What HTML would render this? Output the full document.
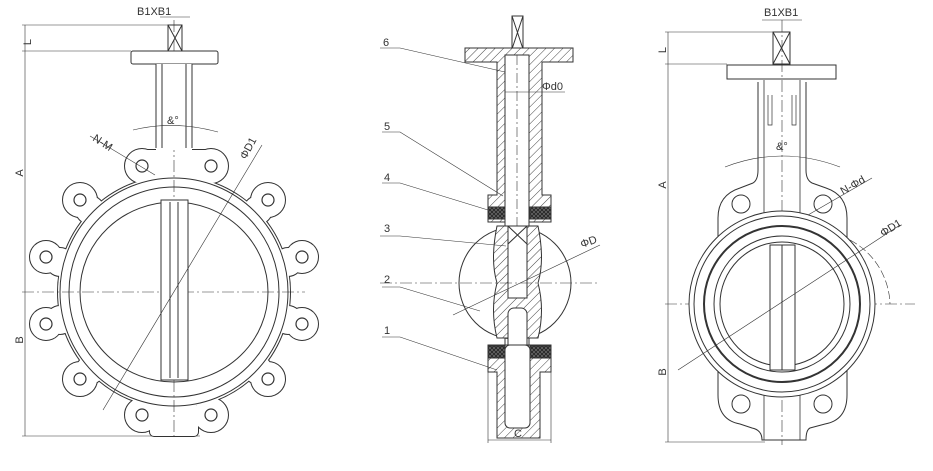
<!DOCTYPE html>
<html><head><meta charset="utf-8"><style>
html,body{margin:0;padding:0;background:#fff}
svg{display:block}
text{font-family:"Liberation Sans",sans-serif;font-size:11px;fill:#333}
</style></head><body>
<svg width="933" height="471" viewBox="0 0 933 471" xmlns="http://www.w3.org/2000/svg">
<defs>
<pattern id="h" width="6" height="6" patternUnits="userSpaceOnUse" patternTransform="rotate(45)">
<rect width="6" height="6" fill="#fff"/><line x1="0" y1="0" x2="0" y2="6" stroke="#444" stroke-width="1"/></pattern>
<pattern id="x" width="4" height="4" patternUnits="userSpaceOnUse">
<rect width="4" height="4" fill="#666"/><path d="M0 0L4 4M4 0L0 4" stroke="#222" stroke-width="0.8"/></pattern>
<g id="lug">
<circle cx="142" cy="166" r="17"/><circle cx="211" cy="166" r="17"/>
<circle cx="80" cy="200" r="17"/><circle cx="268" cy="200" r="17"/>
<circle cx="46" cy="257" r="16"/><circle cx="302" cy="257" r="16"/>
<circle cx="46" cy="324" r="16"/><circle cx="302" cy="324" r="16"/>
<circle cx="80" cy="379" r="17"/><circle cx="268" cy="379" r="17"/>
<circle cx="142" cy="415" r="17"/><circle cx="211" cy="415" r="17"/>
<circle cx="174" cy="292" r="116"/>
<circle cx="90" cy="210" r="14"/><circle cx="258" cy="210" r="14"/>
<circle cx="90" cy="370" r="14"/><circle cx="258" cy="370" r="14"/>
<circle cx="60" cy="262" r="14"/><circle cx="288" cy="262" r="14"/>
<circle cx="60" cy="320" r="14"/><circle cx="288" cy="320" r="14"/>
<rect x="140" y="150" width="70" height="35"/>
<rect x="150" y="405" width="48" height="31" rx="4"/>
</g>
</defs>
<g fill="none" stroke="#333" stroke-width="1">
<!-- LEFT VIEW -->
<line x1="22" y1="25" x2="168" y2="25" stroke-width="0.6"/>
<line x1="22" y1="51" x2="131" y2="51" stroke-width="0.6"/>
<line x1="22" y1="436" x2="200" y2="436" stroke-width="0.6"/>
<line x1="25" y1="25" x2="25" y2="436" stroke-width="0.6"/>
<use href="#lug" stroke="#333" stroke-width="2"/>
<use href="#lug" fill="#fff" stroke="none"/>
<line x1="22" y1="292" x2="305" y2="292" stroke-dasharray="12,3,2,3" stroke-width="0.6"/>
<line x1="174" y1="20" x2="174" y2="440" stroke-dasharray="12,3,2,3" stroke-width="0.6"/>
<rect x="168" y="25" width="14" height="26"/>
<path d="M168 25L182 51M182 25L168 51"/>
<line x1="160" y1="17" x2="190" y2="17" stroke-width="0.6"/>
<rect x="131" y="51" width="87" height="13" rx="2" fill="#fff"/>
<rect x="156" y="64" width="36" height="86" fill="#fff" stroke="none"/>
<path d="M156 64V148M192 64V148M162 64V148M186 64V148"/>
<circle cx="174" cy="292" r="114"/>
<circle cx="174" cy="292" r="105"/>
<ellipse cx="174" cy="292" rx="94" ry="90"/>
<rect x="161" y="200" width="27" height="180" fill="#fff"/>
<path d="M170 202V378M178 202V378"/>
<g fill="#fff" stroke-width="1.2">
<circle cx="142" cy="166" r="6"/><circle cx="211" cy="166" r="6"/>
<circle cx="80" cy="200" r="6"/><circle cx="268" cy="200" r="6"/>
<circle cx="46" cy="257" r="6"/><circle cx="302" cy="257" r="6"/>
<circle cx="46" cy="324" r="6"/><circle cx="302" cy="324" r="6"/>
<circle cx="80" cy="379" r="6"/><circle cx="268" cy="379" r="6"/>
<circle cx="142" cy="415" r="6"/><circle cx="211" cy="415" r="6"/>
</g>
<path d="M133 130 Q174 120 218 132" stroke-width="0.6"/>
<line x1="90" y1="136" x2="155" y2="175" stroke-width="0.6"/>
<line x1="103" y1="410" x2="262" y2="145" stroke-width="0.6"/>
<!-- MIDDLE VIEW -->
<rect x="512" y="16" width="11" height="33"/>
<path d="M512 16L523 49M523 16L512 49"/>
<path d="M465 48H573V62H542V195H551V222H488V195H497V62H465Z" fill="url(#h)"/>
<rect x="505" y="55" width="24" height="380" fill="#fff"/>
<line x1="517" y1="55" x2="517" y2="300" stroke-dasharray="10,3,2,3" stroke-width="0.6"/>
<circle cx="515" cy="283" r="56" fill="#fff"/>
<path d="M497 226 Q490 260 497 283 Q490 310 497 338 H538 Q545 310 538 283 Q545 260 538 226Z" fill="url(#h)"/>
<rect x="508" y="226" width="19" height="72" fill="#fff"/>
<rect x="508" y="308" width="19" height="125" rx="6" fill="#fff"/>
<path d="M508 226L527 244M527 226L508 244"/>
<path d="M488 345H551V372H540V438H497V372H488Z" fill="url(#h)"/>
<rect x="505" y="345" width="25" height="83" rx="5" fill="#fff"/>
<rect x="488" y="207" width="17" height="12" fill="url(#x)"/>
<rect x="530" y="207" width="21" height="12" fill="url(#x)"/>
<rect x="488" y="346" width="17" height="12" fill="url(#x)"/>
<rect x="530" y="346" width="21" height="12" fill="url(#x)"/>
<line x1="380" y1="283" x2="598" y2="283" stroke-dasharray="12,3,2,3" stroke-width="0.6"/>
<line x1="488" y1="440" x2="551" y2="440" stroke-width="0.6"/>
<line x1="488" y1="372" x2="488" y2="443" stroke-width="0.6"/>
<line x1="551" y1="372" x2="551" y2="443" stroke-width="0.6"/>
<line x1="505" y1="92" x2="565" y2="92" stroke-width="0.6"/>
<line x1="453" y1="315" x2="600" y2="245" stroke-width="0.6"/>
<g stroke-width="0.6">
<path d="M380 48H400L505 72"/><path d="M382 132H400L503 196"/>
<path d="M382 183H400L488 210"/><path d="M380 236H400L506 246"/>
<path d="M382 287H400L480 311"/><path d="M382 337H400L497 370"/>
</g>
<!-- RIGHT VIEW -->
<line x1="665" y1="32" x2="773" y2="32" stroke-width="0.6"/>
<line x1="665" y1="64" x2="727" y2="64" stroke-width="0.6"/>
<line x1="665" y1="442" x2="765" y2="442" stroke-width="0.6"/>
<line x1="668" y1="32" x2="668" y2="442" stroke-width="0.6"/>
<line x1="665" y1="304" x2="915" y2="304" stroke-dasharray="12,3,2,3" stroke-width="0.6"/>
<line x1="782" y1="20" x2="782" y2="445" stroke-dasharray="12,3,2,3" stroke-width="0.6"/>
<line x1="762" y1="20" x2="802" y2="20" stroke-width="0.6"/>
<rect x="773" y="32" width="17" height="32"/>
<path d="M773 32L790 64M790 32L773 64"/>
<rect x="727" y="65" width="109" height="14"/>
<path d="M758 82V170Q758 180 753 183L740 188Q718 195 718 218V256Q705 304 718 352V395Q718 420 740 424L752 428Q762 430 762 440H806Q806 430 810 428L825 424Q847 420 847 395V352Q860 304 847 256V218Q847 195 826 188L812 183Q806 180 806 170V82"/>
<path d="M764 80V440M800 80V440" stroke-width="0.8"/>
<path d="M768 95V125H772V95M796 95V125H792V95" stroke-width="0.7"/>
<circle cx="782" cy="304" r="93" fill="#fff"/>
<circle cx="782" cy="304" r="88"/>
<circle cx="782" cy="304" r="78" stroke-width="2"/>
<circle cx="782" cy="304" r="68"/>
<circle cx="782" cy="304" r="62"/>
<rect x="770" y="245" width="25" height="125" fill="#fff"/>
<line x1="782" y1="245" x2="782" y2="370"/>
<circle cx="741" cy="204" r="9" fill="#fff"/><circle cx="823" cy="204" r="9" fill="#fff"/>
<circle cx="741" cy="404" r="9" fill="#fff"/><circle cx="823" cy="404" r="9" fill="#fff"/>
<path d="M725 167Q782 145 840 167" stroke-width="0.6"/>
<path d="M850 240A75 75 0 0 1 890 304" stroke-width="0.6" stroke-dasharray="8,3"/>
<line x1="678" y1="370" x2="900" y2="225" stroke-width="0.6"/>
<line x1="808" y1="215" x2="872" y2="178" stroke-width="0.6"/>
</g>
<text x="137" y="15">B1XB1</text>
<text x="31" y="42" transform="rotate(-90 31 42)" text-anchor="middle">L</text>
<text x="23" y="173" transform="rotate(-90 23 173)" text-anchor="middle">A</text>
<text x="23" y="340" transform="rotate(-90 23 340)" text-anchor="middle">B</text>
<text x="167" y="124">&amp;°</text>
<text x="92" y="140" transform="rotate(33 92 140)">N-M</text>
<text x="246" y="160" transform="rotate(-62 246 160)">ΦD1</text>
<text x="383" y="46">6</text><text x="384" y="130">5</text><text x="384" y="181">4</text>
<text x="384" y="232">3</text><text x="384" y="283">2</text><text x="384" y="334">1</text>
<text x="542" y="90">Φd0</text>
<text x="582" y="248" transform="rotate(-20 582 248)">ΦD</text>
<text x="514" y="437">C</text>
<text x="764" y="16">B1XB1</text>
<text x="666" y="50" transform="rotate(-90 666 50)" text-anchor="middle">L</text>
<text x="666" y="185" transform="rotate(-90 666 185)" text-anchor="middle">A</text>
<text x="666" y="372" transform="rotate(-90 666 372)" text-anchor="middle">B</text>
<text x="776" y="150">&amp;°</text>
<text x="843" y="195" transform="rotate(-30 843 195)">N-Φd</text>
<text x="883" y="237" transform="rotate(-32 883 237)">ΦD1</text>
</svg>
</body></html>
